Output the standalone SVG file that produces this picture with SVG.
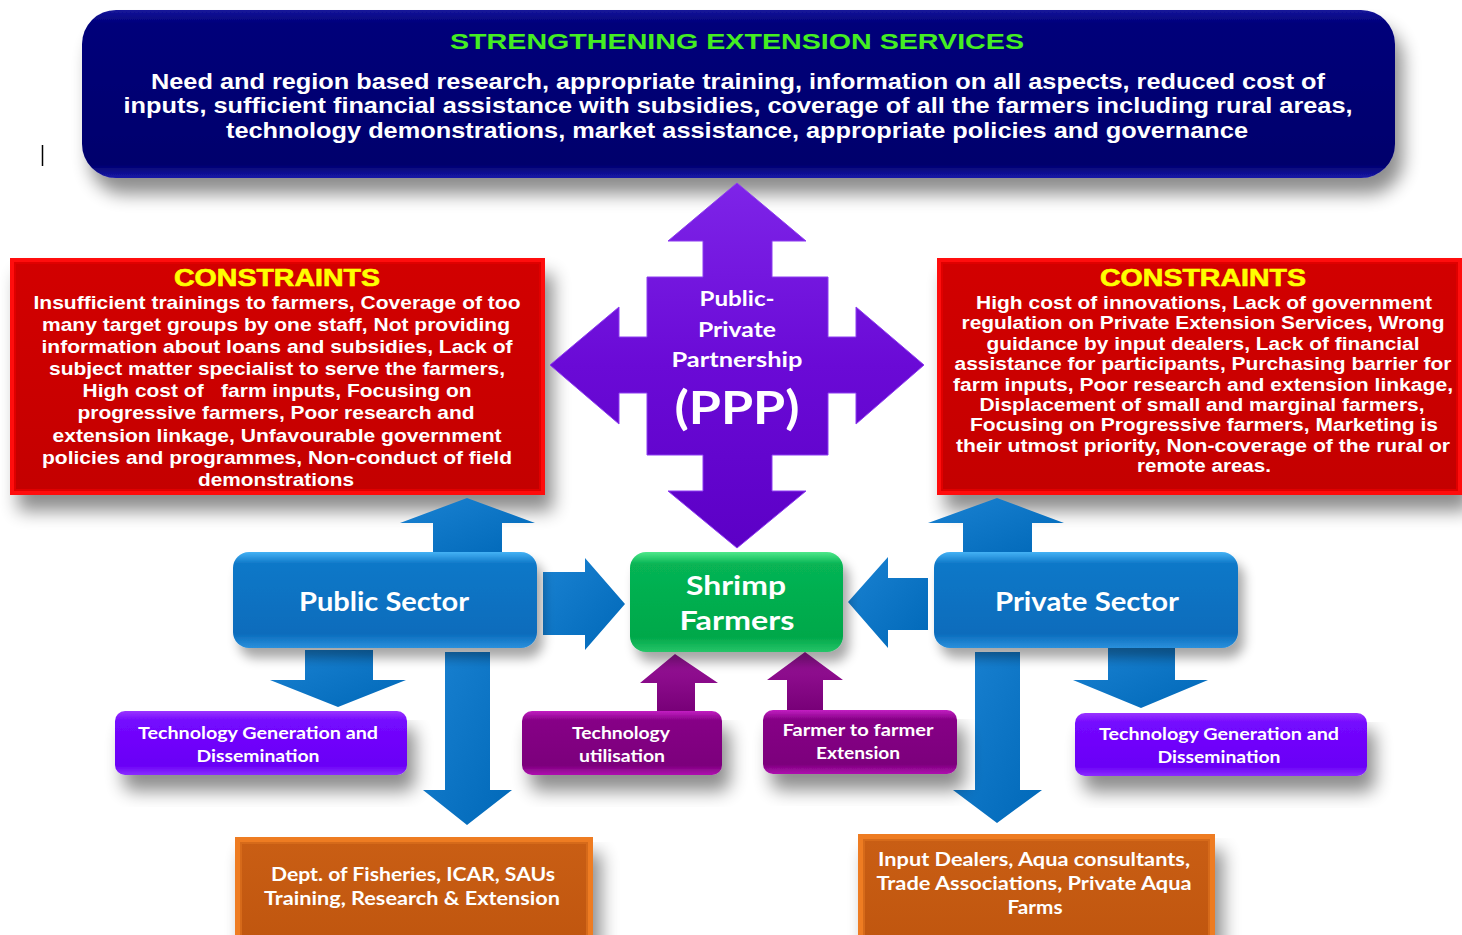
<svg xmlns="http://www.w3.org/2000/svg" width="1462" height="935" viewBox="0 0 1462 935">
  <defs>
    <style>
      .ttl { font-family: "Liberation Sans", Arial, sans-serif; font-weight: bold; text-anchor: middle; }
      .body { font-family: "Liberation Sans", Arial, sans-serif; font-weight: bold; fill: #ffffff; text-anchor: middle; }
      .lbl { font-family: Lato, "Open Sans", sans-serif; font-weight: bold; fill: #ffffff; text-anchor: middle; }
      .blue { fill: url(#gBlueArrow); }
      .plum { fill: url(#gPlumArrow); }
    </style>
    <filter id="shadow" x="-10%" y="-10%" width="130%" height="160%">
      <feGaussianBlur in="SourceAlpha" stdDeviation="9"/>
      <feOffset dx="8" dy="16" result="o"/>
      <feComponentTransfer><feFuncA type="linear" slope="0.45"/></feComponentTransfer>
      <feMerge><feMergeNode/><feMergeNode in="SourceGraphic"/></feMerge>
    </filter>
    <filter id="shadowS" x="-10%" y="-10%" width="130%" height="160%">
      <feGaussianBlur in="SourceAlpha" stdDeviation="6"/>
      <feOffset dx="6" dy="10"/>
      <feComponentTransfer><feFuncA type="linear" slope="0.35"/></feComponentTransfer>
      <feMerge><feMergeNode/><feMergeNode in="SourceGraphic"/></feMerge>
    </filter>
    <linearGradient id="gNavy" x1="0" y1="0" x2="0" y2="1">
      <stop offset="0" stop-color="#16169a"/>
      <stop offset="0.08" stop-color="#00007a"/>
      <stop offset="0.92" stop-color="#00006c"/>
      <stop offset="1" stop-color="#1818a8"/>
    </linearGradient>
    <linearGradient id="gBlue" x1="0" y1="0" x2="0" y2="1">
      <stop offset="0" stop-color="#45b2f5"/>
      <stop offset="0.12" stop-color="#0f78c8"/>
      <stop offset="0.85" stop-color="#0a6cbc"/>
      <stop offset="1" stop-color="#2a90dc"/>
    </linearGradient>
    <linearGradient id="gGreen" x1="0" y1="0" x2="0" y2="1">
      <stop offset="0" stop-color="#4ee88a"/>
      <stop offset="0.12" stop-color="#07b454"/>
      <stop offset="0.85" stop-color="#00a84a"/>
      <stop offset="1" stop-color="#26c468"/>
    </linearGradient>
    <linearGradient id="gViolet" x1="0" y1="0" x2="0" y2="1">
      <stop offset="0" stop-color="#9a35ff"/>
      <stop offset="0.15" stop-color="#7408ff"/>
      <stop offset="0.85" stop-color="#6a00f6"/>
      <stop offset="1" stop-color="#8a2cff"/>
    </linearGradient>
    <linearGradient id="gPlum" x1="0" y1="0" x2="0" y2="1">
      <stop offset="0" stop-color="#c21ec2"/>
      <stop offset="0.15" stop-color="#860086"/>
      <stop offset="0.85" stop-color="#7c007c"/>
      <stop offset="1" stop-color="#b010b0"/>
    </linearGradient>
    <linearGradient id="gPPP" x1="0" y1="0" x2="0" y2="1">
      <stop offset="0" stop-color="#7e24e8"/>
      <stop offset="0.5" stop-color="#6a0ad6"/>
      <stop offset="1" stop-color="#5c00c6"/>
    </linearGradient>
    <linearGradient id="gBlueArrow" x1="0" y1="0" x2="1" y2="1">
      <stop offset="0" stop-color="#1a82d2"/>
      <stop offset="1" stop-color="#0068b8"/>
    </linearGradient>
    <linearGradient id="gPlumArrow" x1="0" y1="0" x2="0" y2="1">
      <stop offset="0" stop-color="#9a149a"/>
      <stop offset="1" stop-color="#780078"/>
    </linearGradient>
    <!-- bevel faces: bright rim fading into the darker plate -->
    <linearGradient id="gRedPlate" x1="0" y1="0" x2="0" y2="1">
      <stop offset="0" stop-color="#d20000"/>
      <stop offset="1" stop-color="#c40000"/>
    </linearGradient>
    <linearGradient id="gOrangePlate" x1="0" y1="0" x2="0" y2="1">
      <stop offset="0" stop-color="#c95e14"/>
      <stop offset="1" stop-color="#c0560f"/>
    </linearGradient>
  </defs>

  <rect width="1462" height="935" fill="#ffffff"/>

  <!-- text cursor mark at the left margin -->
  <line x1="42.5" y1="145" x2="42.5" y2="166" stroke="#000000" stroke-width="1.5"/>

  <!-- banner: strengthening extension services -->
  <g id="banner">
    <rect x="82" y="10" width="1313" height="168" rx="34" fill="url(#gNavy)" filter="url(#shadow)"/>
    <text class="ttl" x="737" y="49" font-size="22" fill="#44ee22" textLength="574" lengthAdjust="spacingAndGlyphs">STRENGTHENING EXTENSION SERVICES</text>
    <text class="body" x="738" y="89" font-size="22" textLength="1174" lengthAdjust="spacingAndGlyphs">Need and region based research, appropriate training, information on all aspects, reduced cost of</text>
    <text class="body" x="738" y="113" font-size="22" textLength="1229" lengthAdjust="spacingAndGlyphs">inputs, sufficient financial assistance with subsidies, coverage of all the farmers including rural areas,</text>
    <text class="body" x="737" y="138" font-size="22" textLength="1022" lengthAdjust="spacingAndGlyphs">technology demonstrations, market assistance, appropriate policies and governance</text>
  </g>

  <!-- public sector constraints -->
  <g id="constraints-public">
    <rect x="10" y="258" width="535" height="237" fill="#ff1010" filter="url(#shadow)"/>
    <rect x="15" y="263" width="525" height="227" fill="url(#gRedPlate)" stroke="#e00000" stroke-width="2"/>
    <text class="ttl" x="277" y="286" font-size="23" fill="#ffff00" stroke="#ffff00" stroke-width="0.6" textLength="206" lengthAdjust="spacingAndGlyphs">CONSTRAINTS</text>
    <g class="body" font-size="18.5">
      <text x="277" y="309" textLength="487" lengthAdjust="spacingAndGlyphs">Insufficient trainings to farmers, Coverage of too</text>
      <text x="276" y="331" textLength="468" lengthAdjust="spacingAndGlyphs">many target groups by one staff, Not providing</text>
      <text x="277" y="353" textLength="471" lengthAdjust="spacingAndGlyphs">information about loans and subsidies, Lack of</text>
      <text x="277" y="375" textLength="456" lengthAdjust="spacingAndGlyphs">subject matter specialist to serve the farmers,</text>
      <text x="277" y="397" textLength="389" lengthAdjust="spacingAndGlyphs" xml:space="preserve">High cost of   farm inputs, Focusing on</text>
      <text x="276" y="419" textLength="397" lengthAdjust="spacingAndGlyphs">progressive farmers, Poor research and</text>
      <text x="277" y="442" textLength="449" lengthAdjust="spacingAndGlyphs">extension linkage, Unfavourable government</text>
      <text x="277" y="464" textLength="470" lengthAdjust="spacingAndGlyphs">policies and programmes, Non-conduct of field</text>
      <text x="276" y="486" textLength="156" lengthAdjust="spacingAndGlyphs">demonstrations</text>
    </g>
  </g>

  <!-- private sector constraints -->
  <g id="constraints-private">
    <rect x="937" y="258" width="525" height="237" fill="#ff1010" filter="url(#shadow)"/>
    <rect x="942" y="263" width="515" height="227" fill="url(#gRedPlate)" stroke="#e00000" stroke-width="2"/>
    <text class="ttl" x="1203" y="286" font-size="23" fill="#ffff00" stroke="#ffff00" stroke-width="0.6" textLength="206" lengthAdjust="spacingAndGlyphs">CONSTRAINTS</text>
    <g class="body" font-size="17.5">
      <text x="1204" y="309" textLength="456" lengthAdjust="spacingAndGlyphs">High cost of innovations, Lack of government</text>
      <text x="1203" y="329" textLength="483" lengthAdjust="spacingAndGlyphs">regulation on Private Extension Services, Wrong</text>
      <text x="1203" y="350" textLength="433" lengthAdjust="spacingAndGlyphs">guidance by input dealers, Lack of financial</text>
      <text x="1203" y="370" textLength="497" lengthAdjust="spacingAndGlyphs">assistance for participants, Purchasing barrier for</text>
      <text x="1203" y="391" textLength="500" lengthAdjust="spacingAndGlyphs">farm inputs, Poor research and extension linkage,</text>
      <text x="1202" y="411" textLength="445" lengthAdjust="spacingAndGlyphs">Displacement of small and marginal farmers,</text>
      <text x="1204" y="431" textLength="468" lengthAdjust="spacingAndGlyphs">Focusing on Progressive farmers, Marketing is</text>
      <text x="1203" y="452" textLength="494" lengthAdjust="spacingAndGlyphs">their utmost priority, Non-coverage of the rural or</text>
      <text x="1204" y="472" textLength="134" lengthAdjust="spacingAndGlyphs">remote areas.</text>
    </g>
  </g>

  <!-- connectors: block arrows -->
  <g id="connectors">
    <!-- public sector up to its constraints -->
    <polygon class="blue" points="467,498 535,523 502,523 502,552 433,552 433,523 400,523"/>
    <!-- private sector up to its constraints -->
    <polygon class="blue" points="997,498 1064,523 1032,523 1032,552 963,552 963,523 928,523"/>
    <!-- public sector to shrimp farmers -->
    <polygon class="blue" points="543,572 585,572 585,558 625,604 585,650 585,635 543,635"/>
    <!-- private sector to shrimp farmers -->
    <polygon class="blue" points="928,578 888,578 888,557 848,602 888,648 888,630 928,630"/>
    <!-- public sector down to technology generation -->
    <polygon class="blue" points="305,650 373,650 373,680 406,680 338,707 270,680 305,680"/>
    <!-- public sector down to public agencies -->
    <polygon class="blue" points="445,652 490,652 490,790 512,790 467,825 423,790 445,790"/>
    <!-- private sector down to technology generation -->
    <polygon class="blue" points="1108,648 1175,648 1175,680 1208,680 1141,708 1073,680 1108,680"/>
    <!-- private sector down to private players -->
    <polygon class="blue" points="975,652 1020,652 1020,790 1042,790 997,823 953,790 975,790"/>
    <!-- technology utilisation up to shrimp farmers -->
    <polygon class="plum" points="675,654 718,683 695,683 695,711 657,711 657,683 640,683"/>
    <!-- farmer to farmer extension up to shrimp farmers -->
    <polygon class="plum" points="805,652 843,680 823,680 823,710 787,710 787,680 767,680"/>
  </g>

  <!-- public-private partnership hub -->
  <g id="ppp">
    <polygon fill="url(#gPPP)" stroke="#8c3cf0" stroke-width="1" points="737,183 806,241 772,241 772,277 828,277 828,337 856,337 856,307 924,365 856,424 856,393 828,393 828,455 772,455 772,491 806,491 737,548 668,491 703,491 703,455 647,455 647,393 619,393 619,424 550,365 619,307 619,337 647,337 647,277 703,277 703,241 668,241"/>
    <g class="lbl">
      <text x="737" y="306" font-size="20" textLength="75" lengthAdjust="spacingAndGlyphs">Public-</text>
      <text x="737" y="337" font-size="20" textLength="78" lengthAdjust="spacingAndGlyphs">Private</text>
      <text x="737" y="367" font-size="20" textLength="131" lengthAdjust="spacingAndGlyphs">Partnership</text>
      <text x="737" y="424" font-size="46" textLength="125" lengthAdjust="spacingAndGlyphs">(PPP)</text>
    </g>
  </g>

  <g id="public-sector">
    <rect x="233" y="552" width="304" height="96" rx="16" fill="url(#gBlue)" filter="url(#shadowS)"/>
    <text class="lbl" x="384" y="611" font-size="26" textLength="170" lengthAdjust="spacingAndGlyphs">Public Sector</text>
  </g>

  <g id="shrimp-farmers">
    <rect x="630" y="552" width="213" height="100" rx="16" fill="url(#gGreen)" filter="url(#shadowS)"/>
    <text class="lbl" x="736" y="595" font-size="27" textLength="100" lengthAdjust="spacingAndGlyphs">Shrimp</text>
    <text class="lbl" x="737" y="630" font-size="27" textLength="115" lengthAdjust="spacingAndGlyphs">Farmers</text>
  </g>

  <g id="private-sector">
    <rect x="934" y="552" width="304" height="96" rx="16" fill="url(#gBlue)" filter="url(#shadowS)"/>
    <text class="lbl" x="1087" y="611" font-size="26" textLength="184" lengthAdjust="spacingAndGlyphs">Private Sector</text>
  </g>

  <g id="tech-generation-public">
    <rect x="115" y="711" width="292" height="64" rx="10" fill="url(#gViolet)" filter="url(#shadow)"/>
    <text class="lbl" x="258" y="739" font-size="17" textLength="240" lengthAdjust="spacingAndGlyphs">Technology Generation and</text>
    <text class="lbl" x="258" y="762" font-size="17" textLength="123" lengthAdjust="spacingAndGlyphs">Dissemination</text>
  </g>

  <g id="technology-utilisation">
    <rect x="522" y="711" width="200" height="64" rx="10" fill="url(#gPlum)" filter="url(#shadow)"/>
    <text class="lbl" x="621" y="739" font-size="17" textLength="98" lengthAdjust="spacingAndGlyphs">Technology</text>
    <text class="lbl" x="622" y="762" font-size="17" textLength="86" lengthAdjust="spacingAndGlyphs">utilisation</text>
  </g>

  <g id="farmer-to-farmer">
    <rect x="763" y="710" width="194" height="64" rx="10" fill="url(#gPlum)" filter="url(#shadow)"/>
    <text class="lbl" x="858" y="736" font-size="17" textLength="151" lengthAdjust="spacingAndGlyphs">Farmer to farmer</text>
    <text class="lbl" x="858" y="759" font-size="17" textLength="84" lengthAdjust="spacingAndGlyphs">Extension</text>
  </g>

  <g id="tech-generation-private">
    <rect x="1075" y="713" width="292" height="63" rx="10" fill="url(#gViolet)" filter="url(#shadow)"/>
    <text class="lbl" x="1219" y="740" font-size="17" textLength="240" lengthAdjust="spacingAndGlyphs">Technology Generation and</text>
    <text class="lbl" x="1219" y="763" font-size="17" textLength="123" lengthAdjust="spacingAndGlyphs">Dissemination</text>
  </g>

  <g id="public-agencies">
    <rect x="235" y="837" width="358" height="110" fill="#ee7c24" filter="url(#shadow)"/>
    <rect x="241" y="843" width="346" height="98" fill="url(#gOrangePlate)" stroke="#d66a1a" stroke-width="2"/>
    <text class="lbl" x="413" y="881" font-size="18" textLength="284" lengthAdjust="spacingAndGlyphs">Dept. of Fisheries, ICAR, SAUs</text>
    <text class="lbl" x="412" y="905" font-size="18" textLength="296" lengthAdjust="spacingAndGlyphs">Training, Research &amp; Extension</text>
  </g>

  <g id="private-players">
    <rect x="858" y="834" width="357" height="113" fill="#ee7c24" filter="url(#shadow)"/>
    <rect x="864" y="840" width="345" height="101" fill="url(#gOrangePlate)" stroke="#d66a1a" stroke-width="2"/>
    <text class="lbl" x="1034" y="866" font-size="18" textLength="312" lengthAdjust="spacingAndGlyphs">Input Dealers, Aqua consultants,</text>
    <text class="lbl" x="1034" y="890" font-size="18" textLength="315" lengthAdjust="spacingAndGlyphs">Trade Associations, Private Aqua</text>
    <text class="lbl" x="1035" y="914" font-size="18" textLength="55" lengthAdjust="spacingAndGlyphs">Farms</text>
  </g>
</svg>
